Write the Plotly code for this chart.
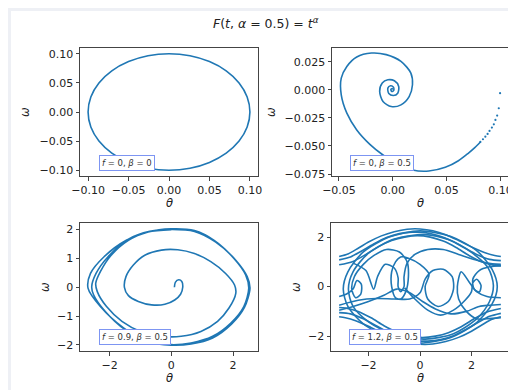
import plotly.graph_objects as go

W, H = 516, 390

# ---------------- data ----------------
theta1 = [0.1, 0.0966, 0.0866, 0.0707, 0.05, 0.0259, 0.0, -0.0259, -0.05, -0.0707, -0.0866,
          -0.0966, -0.1, -0.0966, -0.0866, -0.0707, -0.05, -0.0259, 0.0, 0.0259, 0.05, 0.0707,
          0.0866, 0.0966, 0.1]
omega1 = [0.0, -0.0259, -0.05, -0.0707, -0.0866, -0.0966, -0.1, -0.0966, -0.0866, -0.0707, -0.05,
          -0.0259, 0.0, 0.0259, 0.05, 0.0707, 0.0866, 0.0966, 0.1, 0.0966, 0.0866, 0.0707, 0.05,
          0.0259, 0.0]

theta2_dots = [0.0997, 0.0985, 0.0970, 0.0954, 0.0939, 0.0921, 0.0899, 0.0881, 0.0860, 0.0838, 0.0814]
omega2_dots = [-0.0030, -0.0164, -0.0229, -0.0268, -0.0307, -0.0336, -0.0366, -0.0393, -0.0417, -0.0440, -0.0464]

theta2 = [0.0814, 0.0762, 0.0701, 0.0610, 0.0488, 0.0335, 0.0183, 0.0030, -0.0091, -0.0213, -0.0335,
          -0.0427, -0.0479, -0.0479, -0.0427, -0.0335, -0.0198, -0.0061, 0.0076, 0.0168, 0.0183,
          0.0152, 0.0076, -0.0015, -0.0091, -0.0122, -0.0098, -0.0046, 0.0015, 0.0055, 0.0046,
          0.0006, -0.0037, -0.0046, -0.0021, 0.0006, 0.0009, -0.0009, -0.0018, -0.0006, 0.0]
omega2 = [-0.0464, -0.0515, -0.0565, -0.0631, -0.0690, -0.0723, -0.0714, -0.0655, -0.0580, -0.0485,
          -0.0357, -0.0208, -0.0045, 0.0104, 0.0208, 0.0292, 0.0327, 0.0313, 0.0253, 0.0149, 0.0045,
          -0.0060, -0.0134, -0.0149, -0.0104, -0.0015, 0.0060, 0.0089, 0.0080, 0.0030, -0.0030,
          -0.0051, -0.0033, 0.0015, 0.0036, 0.0024, -0.0006, -0.0015, 0.0003, 0.0012, 0.0003]

theta3 = [0.1, 0.13, 0.24, 0.34, 0.37, 0.30, 0.11, -0.21, -0.64, -1.07, -1.39, -1.52, -1.47, -1.23,
          -0.86, -0.32, 0.21, 0.75, 1.28, 1.76, 2.05, 2.09, 1.87, 1.50, 0.96, 0.32, -0.32, -0.96,
          -1.60, -2.10, -2.40, -2.45, -2.30, -1.95, -1.39, -0.75, 0.0, 0.75, 1.39, 2.03, 2.41, 2.51,
          2.35, 1.93, 1.34, 0.64, 0.0, -0.75, -1.50, -2.14, -2.52, -2.58, -2.44, -2.05, -1.39, -0.70,
          0.0, 0.75, 1.44, 2.09, 2.46, 2.55, 2.37, 1.95, 1.34, 0.64, 0.0, -0.75, -1.55, -2.30, -2.70,
          -2.62, -2.18, -1.46, -0.75, 0.0]
omega3 = [0.0, 0.17, 0.26, 0.20, 0.0, -0.24, -0.44, -0.59, -0.61, -0.49, -0.29, 0.0, 0.37, 0.77,
          1.11, 1.29, 1.30, 1.17, 0.89, 0.48, 0.08, -0.21, -0.72, -1.18, -1.53, -1.70, -1.70, -1.55,
          -1.18, -0.67, -0.15, 0.14, 0.54, 1.11, 1.63, 1.92, 2.03, 1.97, 1.63, 1.00, 0.43, -0.03,
          -0.67, -1.24, -1.70, -1.93, -1.99, -1.87, -1.47, -0.84, -0.26, 0.02, 0.48, 1.06, 1.67,
          1.94, 2.01, 1.94, 1.57, 0.94, 0.37, -0.03, -0.70, -1.28, -1.76, -1.97, -2.01, -1.90,
          -1.41, -0.67, -0.03, 0.48, 1.06, 1.63, 1.92, 2.0]

theta4 = [
    -3.14, -2.8, -2.4, -2.0, -1.5, -1.0, -0.5, 0.0, 0.5, 1.0, 1.5, 2.0, 2.5, 2.9, 3.14, None,
    -3.14, -2.7, -2.3, -1.8, -1.3, -0.8, -0.3, 0.2, 0.7, 1.2, 1.7, 2.2, 2.7, 3.14, None,
    -3.14, -2.6, -2.1, -1.6, -1.1, -0.6, -0.1, 0.4, 0.9, 1.4, 1.9, 2.4, 2.9, 3.14, None,
    3.14, 2.8, 2.4, 2.0, 1.5, 1.0, 0.5, 0.0, -0.5, -1.0, -1.5, -2.0, -2.5, -2.9, -3.14, None,
    3.14, 2.7, 2.3, 1.8, 1.3, 0.8, 0.3, -0.2, -0.7, -1.2, -1.7, -2.2, -2.7, -3.14, None,
    3.14, 2.6, 2.1, 1.6, 1.1, 0.6, 0.1, -0.4, -0.9, -1.4, -1.9, -2.4, -2.9, -3.14, None,
    0.0, -1.2, -2.2, -2.8, -2.98, -2.8, -2.2, -1.2, 0.0, 1.2, 2.2, 2.8, 3.0, 2.8, 2.2, 1.2, 0.0, None,
    0.2, -1.0, -2.0, -2.6, -2.78, -2.6, -2.0, -1.0, 0.2, 1.3, 2.2, 2.7, 2.85, 2.65, 2.0, 1.1, 0.2, None,
    -3.14, -2.85, -2.6, -2.45, -2.28, -2.3, -2.5, -2.65, -2.55, -2.2, -1.8, -1.3, -0.8, -0.5, -0.45,
    -0.55, -0.75, -0.95, -1.1, -1.1, -0.95, -0.75, -0.45, 0.0, 0.35, 0.2, 0.3, 0.7, 1.1, 1.3, 1.25,
    0.9, 0.5, 0.2, 0.0, -0.4, -1.0, -1.7, -2.4, -3.14, None,
    -0.6, -0.2, 0.3, 0.8, 1.3, 1.75, 2.0, 2.05, 2.2, 2.37, 2.3, 2.1, 2.05, 2.3, 2.7, 3.14, None,
    -2.6, -2.1, -1.8, -1.65, -1.35, -1.0, -0.85, -0.85, -0.75, -0.62, -0.62, -0.5, -0.2, 0.3, 0.9,
    1.5, 2.1, 2.6, 3.14, None,
    -3.14, -2.6, -2.0, -1.4, -0.9, -0.4, 0.1, 0.6, 1.2, 1.8, 2.3, 2.7, 3.14, None,
    3.14, 2.6, 2.2, 1.9, 1.6, 1.45, 1.5, 1.8, 2.2, 2.6, 3.14,
]
omega4 = [
    1.22, 1.32, 1.55, 1.8, 2.05, 2.22, 2.32, 2.33, 2.26, 2.1, 1.86, 1.6, 1.38, 1.26, 1.22, None,
    1.08, 1.2, 1.42, 1.72, 1.98, 2.14, 2.2, 2.18, 2.06, 1.86, 1.58, 1.3, 1.1, 1.05, None,
    0.88, 1.02, 1.3, 1.62, 1.86, 2.0, 2.06, 2.0, 1.84, 1.58, 1.26, 1.0, 0.86, 0.84, None,
    -1.22, -1.32, -1.55, -1.8, -2.05, -2.22, -2.32, -2.33, -2.26, -2.1, -1.86, -1.6, -1.38, -1.26, -1.22, None,
    -1.08, -1.2, -1.42, -1.72, -1.98, -2.14, -2.2, -2.18, -2.06, -1.86, -1.58, -1.3, -1.1, -1.05, None,
    -0.88, -1.02, -1.3, -1.62, -1.86, -2.0, -2.06, -2.0, -1.84, -1.58, -1.26, -1.0, -0.86, -0.84, None,
    2.25, 2.0, 1.4, 0.6, -0.1, -0.8, -1.5, -2.05, -2.28, -2.05, -1.45, -0.7, 0.0, 0.7, 1.45, 2.02, 2.25, None,
    2.1, 1.92, 1.35, 0.6, -0.1, -0.8, -1.42, -1.95, -2.12, -1.9, -1.3, -0.6, 0.05, 0.75, 1.38, 1.9, 2.1, None,
    -0.4, -0.3, -0.1, 0.25, 0.1, -0.3, -0.45, -0.1, 0.4, 0.9, 1.25, 1.5, 1.4, 1.0, 0.4,
    -0.2, -0.5, -0.45, 0.0, 0.6, 1.0, 1.2, 1.15, 0.9, 0.5, 0.0, -0.5, -0.8, -0.6, -0.1, 0.4,
    0.7, 0.65, 0.3, -0.25, -0.5, -0.5, -0.48, -0.55, -0.75, None,
    -0.05, -0.5, -0.95, -1.15, -0.95, -0.55, -0.2, 0.15, 0.3, 0.05, -0.22, -0.1, 0.3, 0.65, 0.8, 0.85, None,
    0.95, 0.65, -0.1, 0.4, 0.9, 0.75, 0.35, 0.0, -0.2, 0.0, 0.4, 0.95, 1.3, 1.5, 1.5,
    1.3, 1.1, 0.95, 0.9, None,
    -0.95, -0.8, -0.6, -0.35, -0.1, -0.25, -0.6, -0.9, -1.1, -1.0, -0.8, -0.75, -0.72, None,
    -0.45, -0.4, -0.2, 0.2, 0.6, 0.0, -0.5, -1.0, -1.3, -1.3, -1.25,
]

panel_labels = ["<i>f</i> = 0, <i>β</i> = 0", "<i>f</i> = 0, <i>β</i> = 0.5",
                "<i>f</i> = 0.9, <i>β</i> = 0.5", "<i>f</i> = 1.2, <i>β</i> = 0.5"]
title_text = "<i>F</i>(<i>t</i>, <i>α</i> = 0.5) = <i>t</i><sup><i>α</i></sup>"

x_tickvals = {1: [-0.1, -0.05, 0, 0.05, 0.1], 2: [-0.05, 0, 0.05, 0.1], 3: [-2, 0, 2], 4: [-2, 0, 2]}
x_ticktext = {1: ["−0.10", "−0.05", "0.00", "0.05", "0.10"], 2: ["−0.05", "0.00", "0.05", "0.10"],
              3: ["−2", "0", "2"], 4: ["−2", "0", "2"]}
y_tickvals = {1: [-0.1, -0.05, 0, 0.05, 0.1], 2: [-0.075, -0.05, -0.025, 0, 0.025],
              3: [-2, -1, 0, 1, 2], 4: [-2, 0, 2]}
y_ticktext = {1: ["−0.10", "−0.05", "0.00", "0.05", "0.10"],
              2: ["−0.075", "−0.050", "−0.025", "0.000", "0.025"],
              3: ["−2", "−1", "0", "1", "2"], 4: ["−2", "0", "2"]}

# ---------------- layout helpers ----------------
def fx(p):
    return p / W

def fy(p):
    return 1 - p / H

C0 = "#1f77b4"
FONT = "DejaVu Sans"
AX = "#444444"

boxes = {  # left, right, top, bottom in pixels
    1: (72, 250, 40, 168),
    2: (324, 501, 40, 168),
    3: (72, 250, 215, 343),
    4: (323, 501, 215, 343),
}
ranges = {
    1: ([-0.11, 0.11], [-0.11, 0.11]),
    2: ([-0.0565, 0.108], [-0.0767, 0.0372]),
    3: ([-2.96, 2.81], [-2.21, 2.23]),
    4: ([-3.456, 3.456], [-2.6, 2.57]),
}

fig = go.Figure()

def add(i, x, y, mode="lines", shape="spline"):
    sfx = "" if i == 1 else str(i)
    kw = dict(x=x, y=y, mode=mode, xaxis="x" + sfx, yaxis="y" + sfx, showlegend=False,
              hoverinfo="skip")
    if mode == "lines":
        kw["line"] = dict(color=C0, width=1.6, shape=shape, smoothing=0.8)
        kw["connectgaps"] = False
    else:
        kw["marker"] = dict(color=C0, size=2.2)
    fig.add_trace(go.Scatter(**kw))

add(1, theta1, omega1)
add(2, theta2_dots, omega2_dots, mode="markers")
add(2, theta2, omega2)
add(3, theta3, omega3)
add(4, theta4, omega4)

layout = dict(
    width=W, height=H,
    margin=dict(l=0, r=0, t=0, b=0),
    paper_bgcolor="#eef0f5", plot_bgcolor="white",
    template="none",
    font=dict(family=FONT, size=11, color="#222"),
    shapes=[dict(type="rect", xref="paper", yref="paper", x0=fx(3), x1=1.0, y0=fy(387), y1=fy(3),
                 fillcolor="white", line=dict(width=0), layer="below")],
)

for i in range(1, 5):
    sfx = "" if i == 1 else str(i)
    l, r, t, b = boxes[i]
    xr, yr = ranges[i]
    common = dict(showline=True, mirror=True, linecolor=AX, linewidth=1, ticks="outside",
                  ticklen=3.5, tickwidth=1, tickcolor=AX, showgrid=False, zeroline=False,
                  automargin=False, tickfont=dict(family=FONT, size=11, color="#222"))
    layout["xaxis" + sfx] = dict(common, domain=[fx(l), fx(r)], range=xr,
                                 tickvals=x_tickvals[i], ticktext=x_ticktext[i], anchor="y" + sfx)
    layout["yaxis" + sfx] = dict(common, domain=[fy(b), fy(t)], range=yr,
                                 tickvals=y_tickvals[i], ticktext=y_ticktext[i], anchor="x" + sfx)

fig.update_layout(**layout)

ann = []
ann.append(dict(text=title_text, x=fx(258), y=fy(15), xref="paper", yref="paper",
                showarrow=False, font=dict(family=FONT, size=12.5, color="#222"),
                xanchor="center", yanchor="middle"))
for i, (xl, yl, yx, yy) in {1: (161, 195, 17, 104), 2: (412, 195, 263, 104),
                            3: (161, 370, 37, 279), 4: (412, 370, 288, 279)}.items():
    ann.append(dict(text="<i>θ</i>", x=fx(xl), y=fy(yl), xref="paper", yref="paper",
                    showarrow=False, font=dict(family=FONT, size=11.5, color="#222"),
                    xanchor="center", yanchor="middle"))
    ann.append(dict(text="<i>ω</i>", x=fx(yx), y=fy(yy), xref="paper", yref="paper",
                    showarrow=False, textangle=-90, font=dict(family=FONT, size=11.5, color="#222"),
                    xanchor="center", yanchor="middle"))
for i, (cx, cy) in {1: (119, 155), 2: (374, 155), 3: (127, 329), 4: (377, 329)}.items():
    ann.append(dict(text=panel_labels[i - 1], x=fx(cx), y=fy(cy), xref="paper", yref="paper",
                    showarrow=False, font=dict(family=FONT, size=8.5, color="#333"),
                    bgcolor="white", bordercolor="#7d95f2", borderwidth=1, borderpad=2,
                    xanchor="center", yanchor="middle"))
fig.update_layout(annotations=ann)

fig.write_html("out.html")
